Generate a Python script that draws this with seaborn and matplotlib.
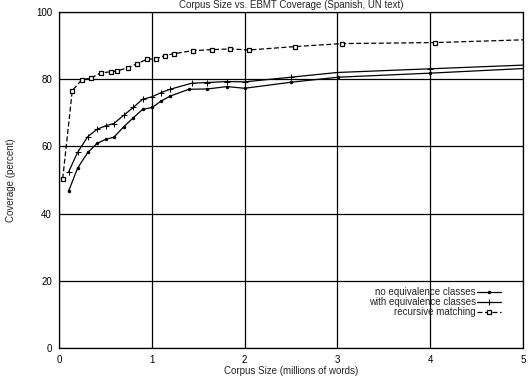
import matplotlib
matplotlib.use("Agg")
import matplotlib.pyplot as plt
import seaborn as sns
import pandas as pd

# Data
x_rec = [0.04, 0.143, 0.245, 0.35, 0.45, 0.56, 0.63, 0.74, 0.84, 0.945, 1.045, 1.14, 1.24,
         1.44, 1.645, 1.84, 2.05, 2.54, 3.05, 4.05, 5.1]
y_rec = [50.4, 76.6, 79.8, 80.4, 81.9, 82.2, 82.5, 83.4, 84.6, 85.9, 86.1, 87.0, 87.6,
         88.5, 88.8, 89.0, 88.7, 89.7, 90.6, 90.9, 91.8]

x_eq = [0.105, 0.2, 0.31, 0.41, 0.51, 0.59, 0.70, 0.80, 0.90, 1.005, 1.10, 1.196, 1.43,
        1.59, 1.81, 2.0, 2.5, 3.0, 4.0, 5.1]
y_eq = [52.5, 58.2, 62.9, 65.1, 66.2, 66.8, 69.3, 71.6, 74.0, 74.8, 76.0, 77.0, 78.8,
        79.0, 79.3, 79.2, 80.6, 82.0, 83.1, 84.3]

x_no = [0.105, 0.2, 0.31, 0.41, 0.51, 0.59, 0.70, 0.80, 0.90, 1.005, 1.10, 1.20, 1.40,
        1.60, 1.81, 2.0, 2.5, 3.01, 4.0, 5.1]
y_no = [46.8, 53.5, 58.2, 60.9, 62.2, 62.7, 65.9, 68.5, 71.0, 71.6, 73.5, 75.0, 77.0,
        77.1, 77.8, 77.3, 79.1, 80.6, 81.8, 83.3]

labels = ["no equivalence classes", "with equivalence classes", "recursive matching"]
x_ticks = [0, 1, 2, 3, 4, 5]
y_ticks = [0, 20, 40, 60, 80, 100]

sns.set_theme(style="white")
plt.rcParams['font.family'] = ['Liberation Sans', 'DejaVu Sans']

fig = plt.figure(figsize=(5.31, 3.79), dpi=100)
ax = fig.add_axes([59/531, 31/379, 464/531, 336/379])

df_no = pd.DataFrame({"x": x_no, "y": y_no})
df_eq = pd.DataFrame({"x": x_eq, "y": y_eq})
df_rec = pd.DataFrame({"x": x_rec, "y": y_rec})

sns.lineplot(data=df_no, x="x", y="y", ax=ax, color="black", lw=0.9, marker="o",
             markersize=2.5, markeredgewidth=0, markerfacecolor="black",
             markeredgecolor="black", label=labels[0], sort=False)
sns.lineplot(data=df_eq, x="x", y="y", ax=ax, color="black", lw=0.9, marker="+",
             markersize=5, markeredgewidth=0.75, markeredgecolor="black",
             label=labels[1], sort=False)
sns.lineplot(data=df_rec, x="x", y="y", ax=ax, color="black", lw=0.9, marker="s",
             markersize=3.5, markerfacecolor="white", markeredgecolor="black",
             markeredgewidth=0.9, linestyle=(0, (4, 2)), label=labels[2], sort=False)

ax.set_xlim(0, 5)
ax.set_ylim(0, 100)
ax.set_xticks(x_ticks)
ax.set_yticks(y_ticks)
ax.grid(True, color="black", lw=0.9)
ax.set_axisbelow(True)
for s in ax.spines.values():
    s.set_color("black")
    s.set_linewidth(0.9)
ax.tick_params(axis="both", length=0, labelsize=7, colors="black", pad=5)

ax.set_xlabel("Corpus Size (millions of words)", fontsize=7, labelpad=1)
ax.set_ylabel("Coverage (percent)", fontsize=7, labelpad=14)
fig.text(0.548, 0.999, "Corpus Size vs. EBMT Coverage (Spanish, UN text)",
         ha="center", va="top", fontsize=7)

leg = ax.legend(loc="lower right", bbox_to_anchor=(0.962, 0.08), frameon=False,
                markerfirst=False, fontsize=7, handlelength=2.5, labelspacing=0.0,
                handletextpad=0.15, borderaxespad=0)
for t in leg.get_texts():
    t.set_ha("right")

fig.savefig("out.png", dpi=100, facecolor="white")
